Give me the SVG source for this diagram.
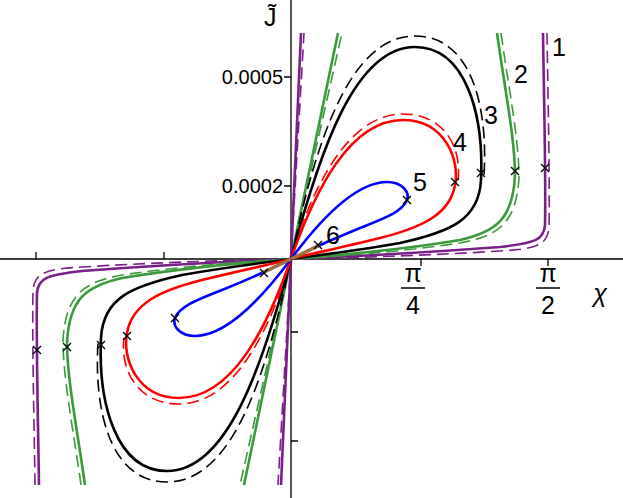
<svg xmlns="http://www.w3.org/2000/svg" xmlns:xlink="http://www.w3.org/1999/xlink" width="623" height="498" viewBox="0 0 623 498">
<style>
.c{fill:none;stroke-width:2.6}
.d{fill:none;stroke-width:1.6;stroke-dasharray:12,6}
.ax{stroke:#000;stroke-width:1.3;fill:none}
.t{font-family:"Liberation Sans",Arial,sans-serif;font-size:20px;fill:#000}
.lab{font-family:"Liberation Sans",Arial,sans-serif;font-size:25px;fill:#000}
.m{stroke:#000;stroke-width:1.3;fill:none}
</style>
<defs>
<g id="half">
<path class="d" stroke="#7a1f8a" d="M547,33 C548,100 550,185 549,228 C547,246 535,249 500,251 C420,256 340,258 291,259"/>
<path class="c" stroke="#7a1f8a" d="M543,33 C544,100 546,180 545,225 C544,240 535,243 500,247 C420,253 340,257 291,259"/>
<path class="d" stroke="#3a9a3a" d="M501,33 C509,90 519,140 519,178 C516,225 497,236 460,243 C400,252 330,257 291,259"/>
<path class="c" stroke="#3a9a3a" d="M497,33 C505,90 515,140 515,175 C513,220 495,232 460,240 C400,250 330,256 291,259"/>
<path class="d" stroke="#3a9a3a" d="M291,259 L342,33"/>
<path class="c" stroke="#3a9a3a" d="M291,259 L338,33"/>
<path class="d" stroke="#7a1f8a" d="M291,259 L304,33"/>
<path class="c" stroke="#7a1f8a" d="M291,259 L301,33"/>
<path class="d" stroke="#000" d="M291,259 C316,140 350,36 415,36 C473,36 488,110 484,175"/>
<path class="c" stroke="#000" d="M291,259 C320,150 355,47 415,47 C466,47 484,115 481,180 C479,220 450,232 400,243 C350,252 310,256 291,259"/>
<path class="d" stroke="#f00" d="M300,230 C322,170 355,114 403,114 C446,114 462,150 458,180"/>
<path class="c" stroke="#f00" d="M291,259 C315,190 350,120 403,120 C445,120 460,160 455,185 C450,215 420,228 380,238 C340,248 305,255 291,259"/>
<path class="c" stroke="#00f" d="M291,259 C320,220 355,182 387,182 C402,182 410,192 407,200 C402,212 385,218 360,228 C330,240 305,252 291,259"/>
<path stroke="#a0703c" stroke-width="3.5" d="M291,259 L320,245"/>
<path class="m" d="M541,164l8,8m0-8l-8,8 M511,167l8,8m0-8l-8,8 M477,169l8,8m0-8l-8,8 M451,178l8,8m0-8l-8,8 M403,196l8,8m0-8l-8,8 M314,241l8,8m0-8l-8,8"/>
</g>
</defs>
<g id="axes">
<path class="ax" d="M0,259 H623 M291,0 V498"/>
<path class="ax" d="M421,259 v7 M548,259 v7 M36,259 v-7 M164,259 v-7 M291,77 h-7 M291,186 h-7 M291,332 h7 M291,441 h7"/>
<text class="t" x="283" y="84" text-anchor="end">0.0005</text>
<text class="t" x="283" y="193" text-anchor="end">0.0002</text>
<text class="lab" x="413" y="282" text-anchor="middle" font-family="Liberation Serif" font-size="30">π</text>
<path class="ax" d="M401,288 h24 M536,288 h24"/>
<text class="lab" x="413" y="314" text-anchor="middle">4</text>
<text class="lab" x="548" y="282" text-anchor="middle" font-family="Liberation Serif" font-size="30">π</text>
<text class="lab" x="548" y="314" text-anchor="middle">2</text>
<text class="lab" x="600" y="302" text-anchor="middle" font-family="Liberation Serif" font-style="italic" font-size="32">χ</text>
<text class="lab" x="264" y="26" font-family="Liberation Serif" font-size="30">J̃</text>
</g>
<g id="connectors">
<use xlink:href="#half" href="#half"/>
<use xlink:href="#half" href="#half" transform="rotate(180 291 259)"/>
</g>
<g id="labels">
<text class="lab" x="552" y="56">1</text>
<text class="lab" x="514" y="83">2</text>
<text class="lab" x="484" y="124">3</text>
<text class="lab" x="453" y="151">4</text>
<text class="lab" x="413" y="191">5</text>
<text class="lab" x="326" y="244">6</text>
</g>
</svg>
